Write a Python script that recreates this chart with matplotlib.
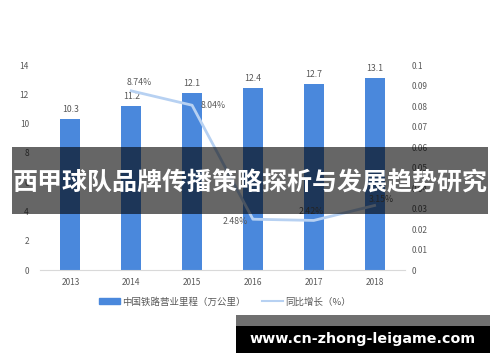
import matplotlib
matplotlib.use("Agg")
import matplotlib.pyplot as plt
from matplotlib.patches import Rectangle, Patch
from matplotlib.lines import Line2D

plt.rcParams['font.family'] = ['Noto Sans CJK SC', 'DejaVu Sans']

years = ['2013', '2014', '2015', '2016', '2017', '2018']
mileage = [10.3, 11.2, 12.1, 12.4, 12.7, 13.1]
growth_years = ['2014', '2015', '2016', '2017', '2018']
growth = [0.0874, 0.0804, 0.0248, 0.0242, 0.0315]
growth_labels = ['8.74%', '8.04%', '2.48%', '2.42%', '3.15%']
left_ticks = [0, 2, 4, 6, 8, 10, 12, 14]
right_ticks = [0, 0.01, 0.02, 0.03, 0.04, 0.05, 0.06, 0.07, 0.08, 0.09, 0.1]
right_tick_labels = ['0', '0.01', '0.02', '0.03', '0.04', '0.05', '0.06', '0.07', '0.08', '0.09', '0.1']
legend_labels = ['中国铁路营业里程（万公里）', '同比增长（%）']
title_text = '西甲球队品牌传播策略探析与发展趋势研究'
url_text = 'www.cn-zhong-leigame.com'

bar_color = '#4a88dc'
line_color = '#b7d1f2'
txt_color = '#595959'

fig = plt.figure(figsize=(5, 3.62), dpi=100)
ax = fig.add_axes([0.08, 0.254, 0.73, 0.5663])
ax2 = ax.twinx()

x = list(range(len(years)))
ax.bar(x, mileage, width=0.33, color=bar_color, zorder=2)
for xi, v in zip(x, mileage):
    ax.text(xi, v + 0.35, f'{v}', ha='center', va='bottom', fontsize=6.3, color=txt_color)

ax.set_xlim(-0.5, len(years) - 0.5)
ax.set_ylim(0, 14)
ax.set_yticks(left_ticks)
ax.set_xticks(x)
ax.set_xticklabels(years)
ax.tick_params(axis='both', length=0, labelsize=6, colors=txt_color)
ax.tick_params(axis='y', pad=8)
ax.tick_params(axis='x', pad=6)
for s in ['top', 'right', 'left']:
    ax.spines[s].set_visible(False)
ax.spines['bottom'].set_color('#d9d9d9')

gx = [years.index(y) for y in growth_years]
ax2.plot(gx, growth, color=line_color, lw=2, zorder=3)
ax2.set_ylim(0, 0.1)
ax2.set_yticks(right_ticks)
ax2.set_yticklabels(right_tick_labels)
ax2.tick_params(axis='y', length=0, labelsize=6, colors=txt_color, pad=5)
for s in ['top', 'right', 'left', 'bottom']:
    ax2.spines[s].set_visible(False)

offsets = [(6, 6, 'center'), (6, 0, 'left'), (-4, -2, 'right'), (-2, 6.5, 'center'), (5, 4.5, 'center')]
for xi, v, lab, (dx, dy, ha) in zip(gx, growth, growth_labels, offsets):
    ax2.annotate(lab, (xi, v), xytext=(dx, dy), textcoords='offset points',
                 ha=ha, va='center', fontsize=6.3, color=txt_color)

handles = [Patch(color=bar_color), Line2D([0], [0], color=line_color, lw=1.5)]
fig.legend(handles, legend_labels, loc='center', bbox_to_anchor=(0.45, 0.166), ncol=2,
           frameon=False, fontsize=6.8, labelcolor=txt_color, handlelength=2.2,
           handleheight=0.6, columnspacing=1.7, handletextpad=0.25)

# overlay band with title
fig.patches.append(Rectangle((0.024, 0.409), 0.952, 0.185, transform=fig.transFigure,
                             facecolor='black', alpha=0.6, zorder=10))
fig.text(0.5, 1 - 183.5 / 362, title_text, ha='center', va='center', color='white', fontsize=18,
         fontweight='bold', zorder=11)

# bottom url box
fig.patches.append(Rectangle((0.472, 1 - 326 / 362), 0.508, 11 / 362, transform=fig.transFigure,
                             facecolor='#707070', zorder=10))
fig.patches.append(Rectangle((0.472, 1 - 353 / 362), 0.508, 27 / 362, transform=fig.transFigure,
                             facecolor='black', zorder=10))
fig.text(0.725, 1 - 339.5 / 362, url_text, ha='center', va='center', color='white',
         fontsize=10.3, fontweight='bold', family=['DejaVu Sans'], zorder=11)

fig.savefig('out.png', dpi=100)
